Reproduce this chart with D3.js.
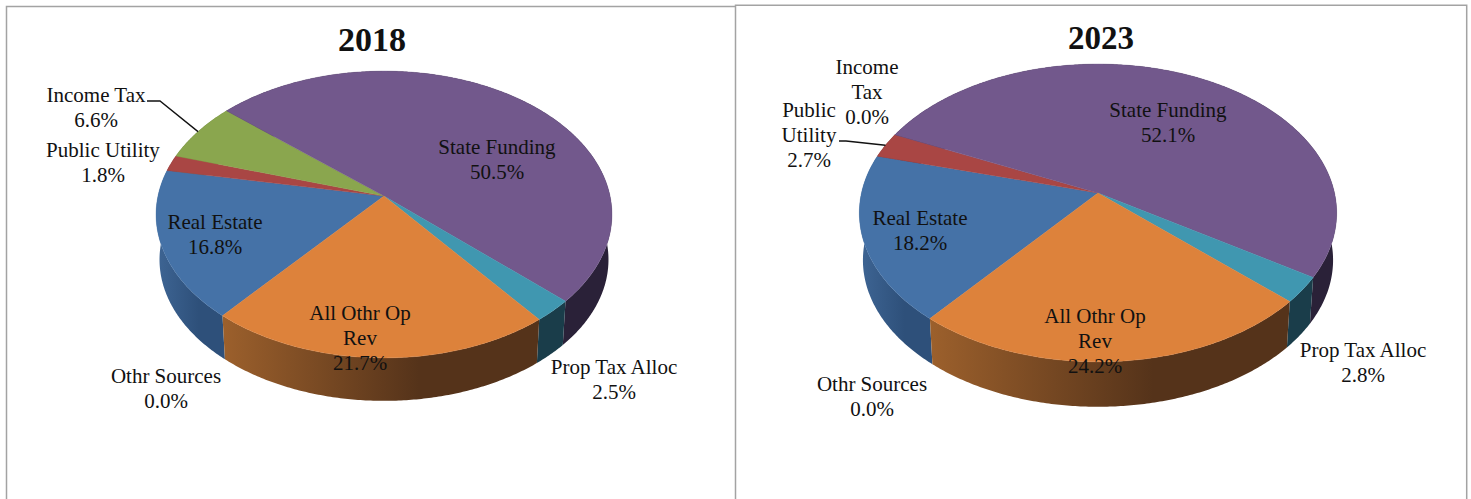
<!DOCTYPE html>
<html>
<head>
<meta charset="utf-8">
<title>Revenue sources, 2018 and 2023</title>
<script src="https://cdn.jsdelivr.net/npm/d3@7/dist/d3.min.js"></script>
<style>
  html, body { margin: 0; padding: 0; background: #fff; }
  svg { display: block; }
  text { font-family: "Liberation Serif", serif; fill: #111; text-anchor: middle; }
</style>
</head>
<body>
<svg id="chart" width="1471" height="499"></svg>
<script>
// Revenue shares in percent, clockwise in the order they sit on the pie
const categories = ["Real Estate", "Public Utility", "Income Tax", "State Funding", "Prop Tax Alloc", "All Othr Op Rev", "Othr Sources"];
const values2018 = [16.8, 1.8, 6.6, 50.5, 2.5, 21.7, 0.0];
const values2023 = [18.2, 2.7, 0.0, 52.1, 2.8, 24.2, 0.0];
const topColors = ["#4572a7", "#a94644", "#8aa64e", "#72588c", "#4097b0", "#dd823b", "#c0c0c0"];
// Side wall shades: left edge, then right edge of each slice's wall
const wallColors = [
  ["#3e6594", "#2e507a"], ["#6d2d2c", "#6d2d2c"], ["#5a6d33", "#5a6d33"], ["#2a2138", "#2a2138"],
  ["#1a3d4a", "#1a3d4a"], ["#9c602c", "#55331a"], ["#777777", "#777777"]
];

// Layout of each panel: perspective ellipse, wall depth, label anchors (line centres)
const panels = [
  {
    id: "a", title: "2018", values: values2018, titleX: 372, titleY: 39, titleSize: 34,
    cx: 384, cy: 196, A: 226, B: 141, k: 0.129, depth: 45.4, startDeg: 220.1,
    labels: {
      "Real Estate": { x: 215, y: 222, lines: ["Real Estate"] },
      "Public Utility": { x: 103, y: 150, lines: ["Public Utility"] },
      "Income Tax": { x: 96, y: 95, lines: ["Income Tax"], leader: [[147, 101], [160, 101]] },
      "State Funding": { x: 497, y: 147, lines: ["State Funding"] },
      "Prop Tax Alloc": { x: 614, y: 367, lines: ["Prop Tax Alloc"] },
      "All Othr Op Rev": { x: 360, y: 313, lines: ["All Othr Op", "Rev"] },
      "Othr Sources": { x: 166, y: 376, lines: ["Othr Sources"] }
    }
  },
  {
    id: "b", title: "2023", values: values2023, titleX: 1101, titleY: 38, titleSize: 33,
    cx: 1098, cy: 193, A: 236.5, B: 146.2, k: 0.134, depth: 47.5, startDeg: 219.6,
    labels: {
      "Real Estate": { x: 920, y: 218, lines: ["Real Estate"] },
      "Public Utility": { x: 809, y: 110, lines: ["Public", "Utility"], leader: [[839, 141], [846, 141]] },
      "Income Tax": { x: 867, y: 67, lines: ["Income", "Tax"] },
      "State Funding": { x: 1168, y: 110, lines: ["State Funding"] },
      "Prop Tax Alloc": { x: 1363, y: 350, lines: ["Prop Tax Alloc"] },
      "All Othr Op Rev": { x: 1095, y: 316, lines: ["All Othr Op", "Rev"] },
      "Othr Sources": { x: 872, y: 384, lines: ["Othr Sources"] }
    }
  }
];

const lineHeight = 24.8;
const wallScale = 0.985;
const svg = d3.select("#chart");
const defs = svg.append("defs");
const pct = d3.format(".1f");
const outline = d3.line();

// Panel frames: open at the bottom, the right-hand panel sits slightly higher
svg.append("path").attr("fill", "none").attr("stroke", "#a3a3a3").attr("stroke-width", 1.5)
  .attr("d", "M6.5,499V6.5H735");
svg.append("path").attr("fill", "none").attr("stroke", "#a3a3a3").attr("stroke-width", 1.5)
  .attr("d", "M735.5,499V5.2H1466.7V499");

panels.forEach(p => {
  const start = p.startDeg * Math.PI / 180;
  const pie = d3.pie().sort(null).startAngle(start).endAngle(start + 2 * Math.PI);
  const arcs = pie(p.values);

  // Map an angle on the unit disc to the screen through the perspective divide
  const project = (angle, r = 1, wall = false) => {
    const u = r * Math.sin(angle), v = -r * Math.cos(angle);
    const w = 1 - p.k * v, s = wall ? wallScale : 1;
    return [p.cx + s * p.A * u / w, p.cy + (wall ? p.depth : 0) + s * p.B * v / w];
  };
  const sweep = d => {
    const n = Math.max(2, Math.ceil((d.endAngle - d.startAngle) / 0.01));
    return d3.range(n + 1).map(i => d.startAngle + (d.endAngle - d.startAngle) * i / n);
  };

  const g = svg.append("g");

  // Side walls first; the back of the wall is covered by the top surface
  arcs.forEach((d, i) => {
    if (d.value === 0) return;
    const gid = `wall-${p.id}-${i}`;
    const grad = defs.append("linearGradient").attr("id", gid).attr("x1", 0).attr("x2", 1).attr("y1", 0).attr("y2", 0);
    grad.append("stop").attr("offset", "0%").attr("stop-color", wallColors[i][0]);
    grad.append("stop").attr("offset", "62%").attr("stop-color", wallColors[i][1]);
    const angles = sweep(d);
    const pts = angles.map(a => project(a)).concat(angles.slice().reverse().map(a => project(a, 1, true)));
    g.append("path").attr("d", outline(pts) + "Z").attr("fill", `url(#${gid})`);
  });

  // Top surface of the pie
  arcs.forEach((d, i) => {
    if (d.value === 0) return;
    const pts = [project(0, 0)].concat(sweep(d).map(a => project(a)));
    g.append("path").attr("d", outline(pts) + "Z")
      .attr("fill", topColors[i]).attr("stroke", topColors[i]).attr("stroke-width", 0.4);
  });

  // Title
  svg.append("text").attr("x", p.titleX).attr("y", p.titleY)
    .attr("dy", "0.34em").attr("font-size", p.titleSize).attr("font-weight", "bold").text(p.title);

  // Category and value labels, with leader lines ending at the slice's mid-angle on the rim
  categories.forEach((name, i) => {
    const lab = p.labels[name];
    const rows = lab.lines.concat(pct(p.values[i]) + "%");
    rows.forEach((row, j) => {
      svg.append("text").attr("x", lab.x).attr("y", lab.y + j * lineHeight)
        .attr("dy", "0.33em").attr("font-size", 21).text(row);
    });
    if (lab.leader) {
      const mid = (arcs[i].startAngle + arcs[i].endAngle) / 2;
      svg.append("path").attr("fill", "none").attr("stroke", "#111").attr("stroke-width", 1.3)
        .attr("d", outline(lab.leader.concat([project(mid)])));
    }
  });
});
</script>
</body>
</html>
